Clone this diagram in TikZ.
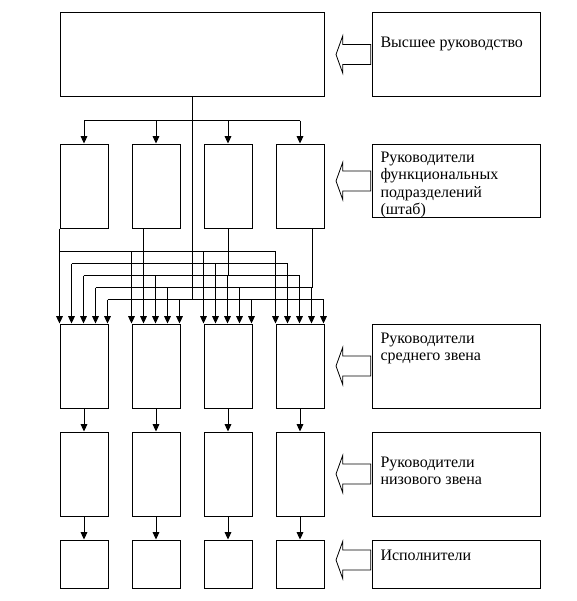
\documentclass[tikz,border=0pt]{standalone}
\usepackage{fontspec}
\setmainfont{Liberation Serif}
\usetikzlibrary{arrows.meta,calc}
\begin{document}
\begin{tikzpicture}[x=0.75pt,y=-0.75pt,
  line width=0.75pt,
  box/.style={draw,inner sep=0pt,minimum width=36pt},
  tall/.style={box,minimum height=63pt},
  short/.style={box,minimum height=36pt},
  arr/.style={-{Triangle[width=5pt,length=5.5pt]}},
  lbl/.style={inner sep=0pt,anchor=base west,align=left,font=\fontsize{12}{13.2}\selectfont},
  rbox/.style={draw,inner sep=0pt,minimum width=126pt},
  blockarr/.pic={\draw[line width=0.6pt] (0,0) -- (6.7,-18.5) -- (6.7,-10) -- (34.7,-10) -- (34.7,10) -- (6.7,10) -- (6.7,18.5) -- cycle;}
]
\useasboundingbox (0,0) rectangle (577,601);
% top box
\node[draw,inner sep=0pt,minimum width=198pt,minimum height=63pt] (T) at (192,54) {};
% columns
\foreach \j/\x in {1/84,2/156,3/228,4/300}{
  \node[tall] (F\j) at (\x,186) {};
  \node[tall] (M\j) at (\x,366) {};
  \node[tall] (L\j) at (\x,474) {};
  \node[short] (E\j) at (\x,564) {};
}
% arrow targets and buses
\foreach \j in {1,...,4}{\foreach \i in {0,...,4}{\coordinate (m\j\i) at ($(M\j.north west)+(12*\i,0)$);}}
\foreach \i in {0,...,4}{\coordinate (bus\i) at ($(M1.north west)+(0,-72+12*\i)$);}
% sources
\coordinate (s0) at (F1.south west);
\coordinate (s1) at ($(F2.south west)+(12,0)$);
\coordinate (s2) at (F3.south);
\coordinate (s3) at ($(F4.south east)+(-12,0)$);
\coordinate (s4) at (T.south);
\foreach \i in {0,...,4}{
  \draw (s\i) -- (s\i |- bus\i);
  \draw (m1\i |- bus\i) -- (m4\i |- bus\i);
  \foreach \j in {1,...,4}{\draw[arr] (m\j\i |- bus\i) -- (m\j\i);}
}
% top to functional
\coordinate (tb) at ($(T.south)+(0,24)$);
\draw (F1.north |- tb) -- (F4.north |- tb);
\foreach \j in {1,...,4}{\draw[arr] (F\j.north |- tb) -- (F\j.north);}
% lower levels
\foreach \j in {1,...,4}{
  \draw[arr] (M\j.south) -- (L\j.north);
  \draw[arr] (L\j.south) -- (E\j.north);
}
% right boxes
\node[rbox,minimum height=63pt] (R1) at (456,54) {};
\node[rbox,minimum height=54.75pt] (R2) at (456,180.5) {};
\node[rbox,minimum height=63pt] (R3) at (456,366) {};
\node[rbox,minimum height=63pt] (R4) at (456,474) {};
\node[rbox,minimum height=36pt] (R5) at (456,564) {};
% texts (anchor = baseline of the last line)
\node[lbl] (t1) at (380,47) {Высшее руководство};
\node[lbl] (t2) at (380,214.8) {Руководители\\функциональных\\подразделений\\(штаб)};
\node[lbl] (t3) at (380,360.6) {Руководители\\среднего звена};
\node[lbl] (t4) at (380,484.6) {Руководители\\низового звена};
\node[lbl] (t5) at (380,560) {Исполнители};
% block arrows
\pic at (336,54.5) {blockarr};
\pic at (336,181) {blockarr};
\pic at (336,366) {blockarr};
\pic at (336,474) {blockarr};
\pic at (336,560) {blockarr};
\end{tikzpicture}
\end{document}
